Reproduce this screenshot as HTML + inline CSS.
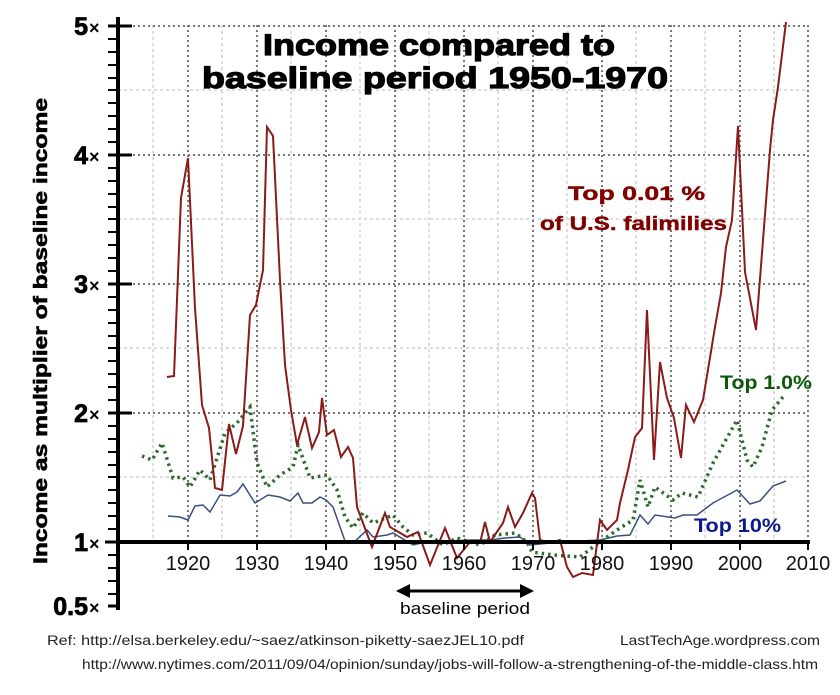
<!DOCTYPE html>
<html><head><meta charset="utf-8"><style>body{margin:0;background:#fff}svg{display:block}</style></head><body>
<svg width="840" height="695" xmlns="http://www.w3.org/2000/svg" font-family="Liberation Sans, sans-serif">
<rect width="840" height="695" fill="#fff"/>
<g stroke="#ddd" stroke-width="2" stroke-dasharray="3,3">
<line x1="118" y1="477" x2="808" y2="477"/><line x1="118" y1="348" x2="808" y2="348"/><line x1="118" y1="219" x2="808" y2="219"/><line x1="118" y1="90" x2="808" y2="90"/>
<line x1="153" y1="25" x2="153" y2="542"/><line x1="222" y1="25" x2="222" y2="542"/><line x1="291" y1="25" x2="291" y2="542"/><line x1="360" y1="25" x2="360" y2="542"/><line x1="429" y1="25" x2="429" y2="542"/><line x1="498" y1="25" x2="498" y2="542"/><line x1="567" y1="25" x2="567" y2="542"/><line x1="636" y1="25" x2="636" y2="542"/><line x1="705" y1="25" x2="705" y2="542"/><line x1="774" y1="25" x2="774" y2="542"/>
</g>
<g stroke="#777" stroke-width="2" stroke-dasharray="2,3">
<line x1="118" y1="26" x2="808" y2="26"/><line x1="118" y1="155" x2="808" y2="155"/><line x1="118" y1="284" x2="808" y2="284"/><line x1="118" y1="413" x2="808" y2="413"/>
<line x1="188" y1="25" x2="188" y2="542"/><line x1="257" y1="25" x2="257" y2="542"/><line x1="326" y1="25" x2="326" y2="542"/><line x1="395" y1="25" x2="395" y2="542"/><line x1="464" y1="25" x2="464" y2="542"/><line x1="533" y1="25" x2="533" y2="542"/><line x1="602" y1="25" x2="602" y2="542"/><line x1="671" y1="25" x2="671" y2="542"/><line x1="740" y1="25" x2="740" y2="542"/><line x1="808" y1="25" x2="808" y2="542"/>
</g>
<g font-weight="bold" font-size="30" stroke="#000" stroke-width="1.2">
<text x="263" y="55" textLength="352" lengthAdjust="spacingAndGlyphs">Income compared to</text><text x="202" y="88" textLength="466" lengthAdjust="spacingAndGlyphs">baseline period 1950-1970</text>
</g>
<polyline fill="none" stroke="#3b4f7f" stroke-width="1.5" points="168,516 180,517 188,520 195,506 203,505 210,512 220,495 230,496 237,492 243,484 255,503 268,495 280,497 290,501 298,493 303,503 312,503 320,497 326,500 333,507 345,541 353,543 367,530 373,537 387,535 393,533 413,545 430,541 450,541 470,540 490,540 505,538 520,537 530,545 560,542 600,540 617,536 630,535 640,515 648,524 655,515 675,518 683,515 697,515 713,503 737,490 750,504 760,501 773,486 786,481"/>
<polyline fill="none" stroke="#2e6b2e" stroke-width="3.5" stroke-dasharray="2.5,4" points="142,456 152,460 162,443 173,478 183,477 190,487 200,470 210,480 225,433 237,423 250,407 257,463 267,487 280,475 293,467 298,445 310,478 327,475 337,490 345,517 353,528 363,513 373,523 393,515 403,527 413,535 427,533 443,545 457,538 480,545 495,535 515,533 527,542 532,552 553,555 580,557 593,547 600,542 617,530 633,520 640,480 648,507 655,487 673,500 682,493 698,497 713,463 737,420 747,460 753,467 762,447 772,410 783,397"/>
<polyline fill="none" stroke="#8b1a1a" stroke-width="2" points="167,377 174,376 181,198 188,158 195,308 202,405 209,428 215,488 222,490 229,424 236,454 243,426 250,315 256,305 263,270 267,127 273,136 280,280 285,365 291,410 297,445 305,417 312,448 319,432 322,398 327,435 334,430 341,457 348,447 353,458 357,507 372,547 385,513 390,527 407,537 418,532 430,565 445,528 457,558 470,542 480,543 485,522 490,542 503,523 508,507 515,527 523,513 532,493 535,498 540,540 550,543 560,540 567,567 573,577 582,573 593,575 600,520 607,530 617,520 620,503 628,470 635,437 642,428 647,310 654,460 660,362 667,398 674,418 681,458 686,405 694,422 703,400 715,327 721,293 726,247 732,220 738,126 745,272 756,330 762,253 770,150 773,120 778,87 786,22"/>
<g stroke="#000">
<line x1="118" y1="17" x2="118" y2="610" stroke-width="4"/>
<line x1="116" y1="542" x2="810" y2="542" stroke-width="4"/>
<g stroke-width="3"><line x1="108" y1="26" x2="132" y2="26"/><line x1="108" y1="155" x2="132" y2="155"/><line x1="108" y1="284" x2="132" y2="284"/><line x1="108" y1="413" x2="132" y2="413"/><line x1="105" y1="542" x2="118" y2="542"/><line x1="108" y1="606" x2="118" y2="606"/></g>
<path stroke-width="2" d="M108 39h10M108 52h10M108 65h10M108 78h10M108 90h10M108 103h10M108 116h10M108 129h10M108 142h10M108 168h10M108 181h10M108 194h10M108 207h10M108 219h10M108 232h10M108 245h10M108 258h10M108 271h10M108 297h10M108 310h10M108 323h10M108 336h10M108 348h10M108 361h10M108 374h10M108 387h10M108 400h10M108 426h10M108 439h10M108 452h10M108 465h10M108 477h10M108 490h10M108 503h10M108 516h10M108 529h10M108 555h10M108 568h10M108 581h10M108 594h10"/>
<path stroke-width="2" d="M188 542v8M257 542v8M326 542v8M395 542v8M464 542v8M533 542v8M602 542v8M671 542v8M740 542v8M808 542v8"/>
<line x1="405" y1="591" x2="525" y2="591" stroke-width="3"/>
</g>
<path d="M396 591l14-7v14z M534 591l-14-7v14z" fill="#000"/>
<g font-weight="bold" font-size="25" text-anchor="end" stroke="#000" stroke-width="0.8">
<text x="88" y="35">5</text><text x="88" y="164">4</text><text x="88" y="293">3</text><text x="88" y="422">2</text><text x="88" y="551">1</text><text x="88" y="615">0.5</text>
</g>
<g font-weight="bold" font-size="18"><text x="89" y="34">×</text><text x="89" y="163">×</text><text x="89" y="292">×</text><text x="89" y="421">×</text><text x="89" y="550">×</text><text x="89" y="614">×</text></g>
<text transform="translate(47,331) rotate(-90)" text-anchor="middle" font-weight="bold" font-size="19" stroke="#000" stroke-width="0.6" textLength="466" lengthAdjust="spacingAndGlyphs">Income as multiplier of baseline income</text>
<g font-size="20" text-anchor="middle" fill="#111">
<text x="188" y="570">1920</text><text x="257" y="570">1930</text><text x="326" y="570">1940</text><text x="395" y="570">1950</text><text x="464" y="570">1960</text><text x="533" y="570">1970</text><text x="602" y="570">1980</text><text x="671" y="570">1990</text><text x="740" y="570">2000</text><text x="808" y="570">2010</text>
</g>
<text x="400" y="614" font-size="17" textLength="130" lengthAdjust="spacingAndGlyphs">baseline period</text>
<g font-weight="bold" fill="#800000" font-size="19" stroke="#800000" stroke-width="0.4"><text x="568" y="200" textLength="137" lengthAdjust="spacingAndGlyphs">Top 0.01 %</text><text x="540" y="230" textLength="187" lengthAdjust="spacingAndGlyphs">of U.S. falimilies</text></g>
<text x="720" y="389" font-weight="bold" font-size="19" fill="#0b5a0b" textLength="92" lengthAdjust="spacingAndGlyphs">Top 1.0%</text>
<text x="694" y="532" font-weight="bold" font-size="19" fill="#0b1a8a" textLength="87" lengthAdjust="spacingAndGlyphs">Top 10%</text>
<g font-size="14" fill="#222"><text x="47" y="645" textLength="477" lengthAdjust="spacingAndGlyphs">Ref:  http://elsa.berkeley.edu/~saez/atkinson-piketty-saezJEL10.pdf</text><text x="620" y="645" textLength="200" lengthAdjust="spacingAndGlyphs">LastTechAge.wordpress.com</text><text x="82" y="669" textLength="736" lengthAdjust="spacingAndGlyphs">http://www.nytimes.com/2011/09/04/opinion/sunday/jobs-will-follow-a-strengthening-of-the-middle-class.htm</text></g>
</svg>
</body></html>
